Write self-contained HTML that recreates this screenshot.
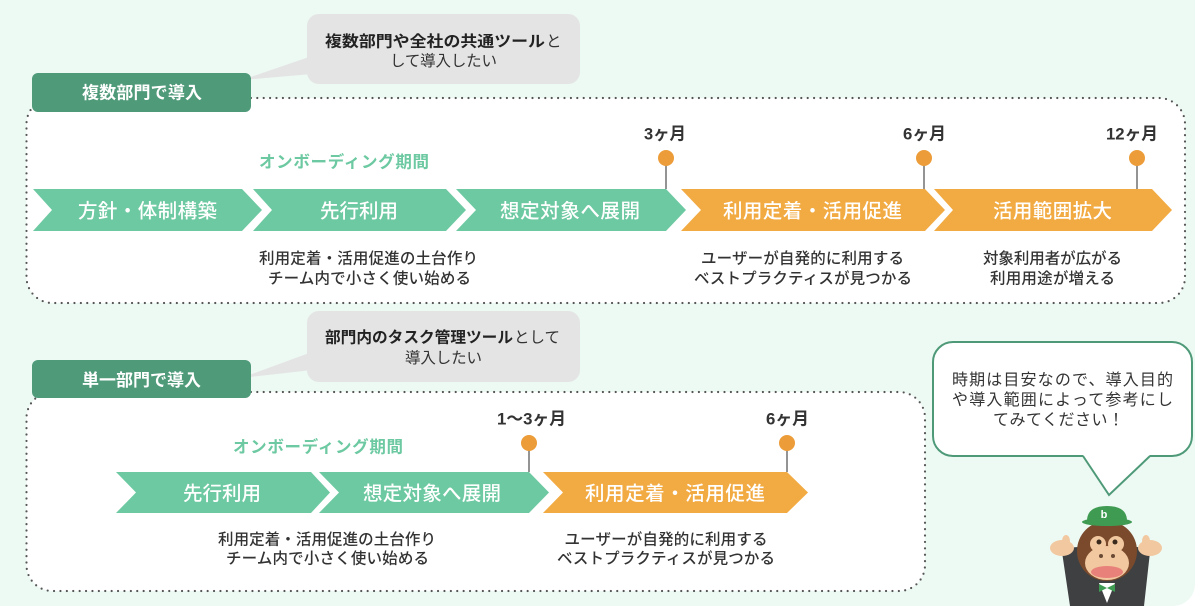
<!DOCTYPE html>
<html><head><meta charset="utf-8">
<style>
html,body{margin:0;padding:0;background:#fff;}
body{width:1200px;height:606px;overflow:hidden;}
svg{display:block;}
text{font-family:"Liberation Sans","Noto Sans CJK JP",sans-serif;}
</style></head>
<body>
<svg width="1200" height="606" viewBox="0 0 1200 606" xmlns="http://www.w3.org/2000/svg">
<rect x="-30" y="-30" width="1225" height="636" rx="22" fill="#edf9f3"/>

<!-- Section 1 box -->
<rect x="26.5" y="98" width="1158.5" height="205" rx="26" fill="#fff" stroke="#555" stroke-width="2.2" stroke-dasharray="0 6.4" stroke-linecap="round"/>
<!-- Bubble 1 -->
<rect x="307" y="14" width="273" height="70" rx="12" fill="#e4e4e4"/>
<polygon points="242,80 312,56 312,74" fill="#e4e4e4"/>
<text x="325" y="46.5" font-size="15.5" font-weight="bold" fill="#222" textLength="220" lengthAdjust="spacingAndGlyphs">複数部門や全社の共通ツール</text>
<text x="546" y="46.5" font-size="15.5" fill="#333">と</text>
<text x="443.5" y="66" font-size="15.5" fill="#333" text-anchor="middle" textLength="107" lengthAdjust="spacing">して導入したい</text>
<!-- Label 1 -->
<rect x="32" y="73" width="219" height="39" rx="6" fill="#4f9a79"/>
<text x="142" y="98.5" font-size="17" font-weight="bold" fill="#fff" text-anchor="middle" textLength="120" lengthAdjust="spacing">複数部門で導入</text>

<text x="344" y="167.5" font-size="16.5" font-weight="bold" fill="#6cc9a1" text-anchor="middle" textLength="170" lengthAdjust="spacing">オンボーディング期間</text>

<!-- Milestones row 1 -->
<line x1="666" y1="158" x2="666" y2="189" stroke="#7a7a7a" stroke-width="1.6"/>
<line x1="924" y1="158" x2="924" y2="189" stroke="#7a7a7a" stroke-width="1.6"/>
<line x1="1137" y1="158" x2="1137" y2="189" stroke="#7a7a7a" stroke-width="1.6"/>
<circle cx="666" cy="158" r="8" fill="#ec9c38"/>
<circle cx="924" cy="158" r="8" fill="#ec9c38"/>
<circle cx="1137" cy="158" r="8" fill="#ec9c38"/>
<text x="665" y="139.5" font-size="17" font-weight="bold" fill="#333" text-anchor="middle" textLength="42" lengthAdjust="spacingAndGlyphs">3ヶ月</text>
<text x="924.5" y="139.5" font-size="17" font-weight="bold" fill="#333" text-anchor="middle" textLength="43" lengthAdjust="spacingAndGlyphs">6ヶ月</text>
<text x="1132" y="139.5" font-size="17" font-weight="bold" fill="#333" text-anchor="middle" textLength="52" lengthAdjust="spacingAndGlyphs">12ヶ月</text>

<!-- Chevrons row 1 -->
<polygon points="33,189 242,189 262,210 242,231 33,231 52,210" fill="#6dc9a1"/>
<polygon points="253,189 446,189 466,210 446,231 253,231 272,210" fill="#6dc9a1"/>
<polygon points="456,189 666,189 686,210 666,231 456,231 476,210" fill="#6dc9a1"/>
<polygon points="681,189 925,189 945,210 925,231 681,231 701,210" fill="#f2aa42"/>
<polygon points="934,189 1152,189 1172,210 1152,231 934,231 953,210" fill="#f2aa42"/>
<g font-size="19.5" font-weight="500" fill="#fff" text-anchor="middle">
<text x="147.5" y="217.5" textLength="139" lengthAdjust="spacing">方針・体制構築</text>
<text x="359" y="217.5" textLength="78" lengthAdjust="spacing">先行利用</text>
<text x="570" y="217.5" textLength="140" lengthAdjust="spacing">想定対象へ展開</text>
<text x="812.5" y="217.5" textLength="179" lengthAdjust="spacing">利用定着・活用促進</text>
<text x="1052.5" y="217.5" textLength="119" lengthAdjust="spacing">活用範囲拡大</text>
</g>

<!-- Descriptions row 1 -->
<g font-size="15.5" font-weight="500" fill="#333" text-anchor="middle">
<text x="368.5" y="263.5" textLength="219" lengthAdjust="spacing">利用定着・活用促進の土台作り</text>
<text x="369.5" y="283.5" textLength="203" lengthAdjust="spacing">チーム内で小さく使い始める</text>
<text x="802.5" y="263.5" textLength="203" lengthAdjust="spacing">ユーザーが自発的に利用する</text>
<text x="803" y="283.5" textLength="218" lengthAdjust="spacing">ベストプラクティスが見つかる</text>
<text x="1052.5" y="263.5" textLength="139" lengthAdjust="spacing">対象利用者が広がる</text>
<text x="1052.5" y="283.5" textLength="125" lengthAdjust="spacing">利用用途が増える</text>
</g>

<!-- Section 2 box -->
<rect x="26.5" y="392" width="898.5" height="199" rx="26" fill="#fff" stroke="#555" stroke-width="2.2" stroke-dasharray="0 6.4" stroke-linecap="round"/>
<!-- Bubble 2 -->
<rect x="307" y="311" width="273" height="71" rx="12" fill="#e4e4e4"/>
<polygon points="241,378 312,352 312,370" fill="#e4e4e4"/>
<text x="325" y="342.5" font-size="15.5" font-weight="bold" fill="#222" textLength="188" lengthAdjust="spacingAndGlyphs">部門内のタスク管理ツール</text>
<text x="514" y="342.5" font-size="15.5" fill="#333" textLength="46" lengthAdjust="spacing">として</text>
<text x="443.5" y="363" font-size="15.5" fill="#333" text-anchor="middle" textLength="77" lengthAdjust="spacing">導入したい</text>
<!-- Label 2 -->
<rect x="32" y="360" width="219" height="38" rx="6" fill="#4f9a79"/>
<text x="141.5" y="386" font-size="17" font-weight="bold" fill="#fff" text-anchor="middle" textLength="119" lengthAdjust="spacing">単一部門で導入</text>

<text x="318" y="452.5" font-size="16.5" font-weight="bold" fill="#6cc9a1" text-anchor="middle" textLength="170" lengthAdjust="spacing">オンボーディング期間</text>

<!-- Milestones row 2 -->
<line x1="529" y1="443" x2="529" y2="472" stroke="#7a7a7a" stroke-width="1.6"/>
<line x1="787" y1="443" x2="787" y2="472" stroke="#7a7a7a" stroke-width="1.6"/>
<circle cx="529" cy="443" r="8" fill="#ec9c38"/>
<circle cx="787" cy="443" r="8" fill="#ec9c38"/>
<text x="531.5" y="424.5" font-size="17" font-weight="bold" fill="#333" text-anchor="middle" textLength="69" lengthAdjust="spacingAndGlyphs">1〜3ヶ月</text>
<text x="787.5" y="424.5" font-size="17" font-weight="bold" fill="#333" text-anchor="middle" textLength="43" lengthAdjust="spacingAndGlyphs">6ヶ月</text>

<!-- Chevrons row 2 -->
<polygon points="116,472 311,472 330,492.5 311,513 116,513 136,492.5" fill="#6dc9a1"/>
<polygon points="319,472 529,472 549,492.5 529,513 319,513 339,492.5" fill="#6dc9a1"/>
<polygon points="543,472 787,472 808,492.5 787,513 543,513 563,492.5" fill="#f2aa42"/>
<g font-size="19.5" font-weight="500" fill="#fff" text-anchor="middle">
<text x="222" y="500" textLength="78" lengthAdjust="spacing">先行利用</text>
<text x="432" y="500" textLength="138" lengthAdjust="spacing">想定対象へ展開</text>
<text x="675" y="500" textLength="180" lengthAdjust="spacing">利用定着・活用促進</text>
</g>

<!-- Descriptions row 2 -->
<g font-size="15.5" font-weight="500" fill="#333" text-anchor="middle">
<text x="327" y="544.5" textLength="218" lengthAdjust="spacing">利用定着・活用促進の土台作り</text>
<text x="327.5" y="563.5" textLength="203" lengthAdjust="spacing">チーム内で小さく使い始める</text>
<text x="666" y="544.5" textLength="203" lengthAdjust="spacing">ユーザーが自発的に利用する</text>
<text x="666" y="563.5" textLength="218" lengthAdjust="spacing">ベストプラクティスが見つかる</text>
</g>

<!-- Right speech bubble -->
<rect x="933" y="342" width="259" height="114" rx="20" fill="#fff" stroke="#4e9a78" stroke-width="2"/>
<polygon points="1083,455 1109,495 1150,455" fill="#fff"/>
<polyline points="1083,456 1109,495 1150,456" fill="none" stroke="#4e9a78" stroke-width="2" stroke-linejoin="miter"/>
<g font-size="16" fill="#333" text-anchor="middle">
<text x="1062.5" y="385" textLength="221" lengthAdjust="spacing">時期は目安なので、導入目的</text>
<text x="1062.5" y="405" textLength="221" lengthAdjust="spacing">や導入範囲によって参考にし</text>
<text x="1058.5" y="425" textLength="131" lengthAdjust="spacing">てみてください！</text>
</g>

<!-- Mascot -->
<g>
<path d="M1062,552 Q1068,547 1078,547 L1088,574 L1126,574 L1136,547 Q1146,547 1150,552 L1144,606 L1070,606 Z" fill="#3f4042"/>
<ellipse cx="1062" cy="548" rx="12" ry="8" fill="#f2c8a0"/>
<ellipse cx="1066" cy="541" rx="4" ry="6" fill="#f2c8a0"/>
<ellipse cx="1150" cy="548" rx="12" ry="8" fill="#f2c8a0"/>
<ellipse cx="1146" cy="541" rx="4" ry="6" fill="#f2c8a0"/>
<ellipse cx="1107" cy="551" rx="30" ry="30" fill="#7b4a2c"/>
<ellipse cx="1107" cy="563" rx="22" ry="17" fill="#f2c8a0"/>
<circle cx="1098" cy="544" r="8" fill="#f2c8a0"/>
<circle cx="1116" cy="544" r="8" fill="#f2c8a0"/>
<circle cx="1099" cy="542" r="2.5" fill="#3a2a1e"/>
<circle cx="1115" cy="542" r="2.5" fill="#3a2a1e"/>
<circle cx="1101" cy="556" r="2" fill="#6a4a34"/>
<circle cx="1113" cy="556" r="2" fill="#6a4a34"/>
<ellipse cx="1107" cy="572" rx="16" ry="6" fill="#e8817a"/>
<polygon points="1099,583 1115,583 1107,603" fill="#fff"/>
<polygon points="1099,584 1107,588 1115,584 1115,592 1107,588 1099,592" fill="#3f9a52"/>
<path d="M1087,521 Q1087,506 1107,506 Q1127,506 1127,521 Z" fill="#3f9a52"/>
<ellipse cx="1107" cy="522" rx="25" ry="4" fill="#3f9a52"/>
<text x="1104" y="518" font-size="11" font-weight="bold" fill="#fff" text-anchor="middle">b</text>
</g>
</svg>
</body></html>
